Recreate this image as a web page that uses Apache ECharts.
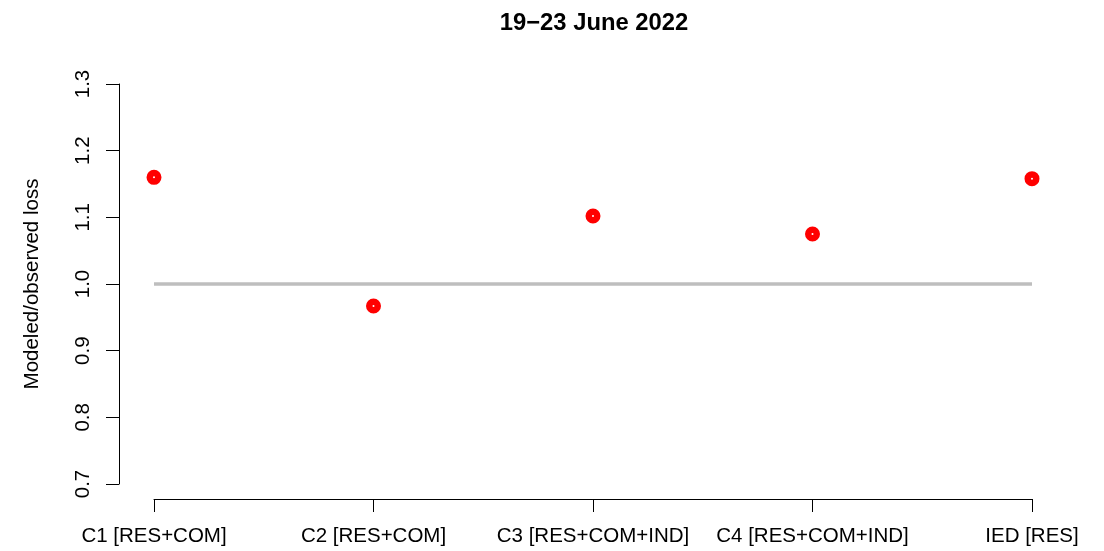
<!DOCTYPE html>
<html>
<head>
<meta charset="utf-8">
<script src="https://cdn.jsdelivr.net/npm/echarts@6/dist/echarts.min.js"></script>
<style>html,body{margin:0;padding:0;background:#fff}#c{width:1104px;height:551px}</style>
</head>
<body>
<div id="c"></div>
<script>
const categories = ['C1 [RES+COM]', 'C2 [RES+COM]', 'C3 [RES+COM+IND]', 'C4 [RES+COM+IND]', 'IED [RES]'];
const ratios = [1.160, 0.967, 1.102, 1.075, 1.158];
const yTicks = [0.7, 0.8, 0.9, 1.0, 1.1, 1.2, 1.3];
const reference = 1.0;
const titleText = '19\u221223 June 2022';
const yName = 'Modeled/observed loss';

const chart = echarts.init(document.getElementById('c'), null, {renderer: 'canvas'});
const font = 'Liberation Sans, Arial, sans-serif';
chart.setOption({
  animation: false,
  title: {
    text: titleText, left: 589, top: 6, textAlign: 'center',
    textStyle: {fontFamily: font, fontSize: 23.8, fontWeight: 'bold', color: '#000'}
  },
  grid: {left: 154, right: 72, top: 84, bottom: 67},
  xAxis: {
    type: 'category', data: categories, boundaryGap: false, offset: 15,
    axisLine: {lineStyle: {color: '#000', width: 1}},
    axisTick: {length: 13, lineStyle: {color: '#000'}},
    axisLabel: {fontFamily: font, fontSize: 20.5, color: '#000', margin: 27, interval: 0},
    splitLine: {show: false}
  },
  yAxis: {
    type: 'value', min: yTicks[0], max: yTicks[yTicks.length - 1], interval: 0.1, offset: 35,
    name: yName, nameLocation: 'middle', nameGap: 76, nameRotate: 90,
    nameTextStyle: {fontFamily: font, fontSize: 20.5, color: '#000'},
    axisLine: {show: true, lineStyle: {color: '#000', width: 1}},
    axisTick: {show: true, length: 13, lineStyle: {color: '#000'}},
    axisLabel: {fontFamily: font, fontSize: 20.5, color: '#000', rotate: 90, margin: 25,
      formatter: v => v.toFixed(1)},
    splitLine: {show: false}
  },
  series: [{
    type: 'scatter',
    data: ratios,
    symbol: 'circle', symbolSize: 8.5,
    itemStyle: {color: '#fff', borderColor: '#ff0000', borderWidth: 6.5, opacity: 1},
    markLine: {
      silent: true, symbol: ['none', 'none'], label: {show: false},
      lineStyle: {color: '#bebebe', width: 3.5, type: 'solid'},
      data: [{yAxis: reference}]
    },
    z: 3
  }]
});
</script>
</body>
</html>
